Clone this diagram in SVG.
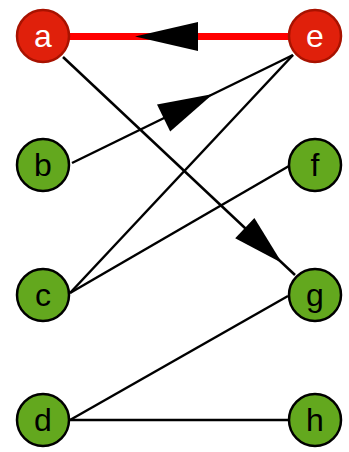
<svg xmlns="http://www.w3.org/2000/svg" width="349" height="452" viewBox="0 0 349 452">
<style>
.edge{stroke:#000;stroke-width:2.5;fill:none}
.hot{stroke:#ff0000;stroke-width:7;fill:none}
.head{fill:#000;stroke:none}
.nr circle{fill:#e0200b;stroke:#a81200;stroke-width:2.5}
.ng circle{fill:#63a81e;stroke:#000;stroke-width:2.5}
text{font-family:"Liberation Sans",Arial,sans-serif;font-size:32px;text-anchor:middle}
.nr text{fill:#fff}
.ng text{fill:#000}
</style>
<rect width="349" height="452" fill="#fff"/>
<g id="connectors">
<line class="hot" x1="69" y1="36.5" x2="289" y2="36.5"/>
<polygon class="head" points="135,36.5 198,22 198,51"/>
<line class="edge" x1="72" y1="163" x2="293" y2="55"/>
<polygon class="head" points="213,94 157,104.6 170.2,131.6"/>
<line class="edge" x1="63" y1="57" x2="295" y2="275"/>
<polygon class="head" points="282,263 235.2,238.3 254.4,217.9"/>
<line class="edge" x1="70" y1="293" x2="293" y2="55"/>
<line class="edge" x1="70" y1="293" x2="289" y2="166"/>
<line class="edge" x1="70" y1="420" x2="288" y2="296"/>
<line class="edge" x1="70" y1="420" x2="289" y2="420"/>
</g>
<g id="node-a" class="nr"><circle cx="43" cy="36" r="26"/><text x="43" y="47">a</text></g>
<g id="node-e" class="nr"><circle cx="315" cy="36" r="26"/><text x="315" y="47">e</text></g>
<g id="node-b" class="ng"><circle cx="43" cy="165" r="26"/><text x="43" y="176">b</text></g>
<g id="node-f" class="ng"><circle cx="315" cy="165" r="26"/><text x="315" y="176">f</text></g>
<g id="node-c" class="ng"><circle cx="43" cy="295" r="26"/><text x="43" y="306">c</text></g>
<g id="node-g" class="ng"><circle cx="315" cy="295" r="26"/><text x="315" y="306">g</text></g>
<g id="node-d" class="ng"><circle cx="43" cy="420" r="26"/><text x="43" y="431">d</text></g>
<g id="node-h" class="ng"><circle cx="315" cy="420" r="26"/><text x="315" y="431">h</text></g>
</svg>
